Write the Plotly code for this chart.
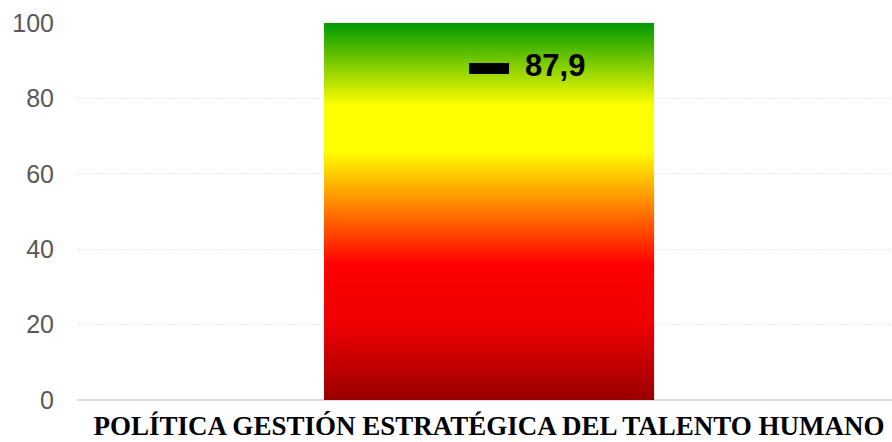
import plotly.graph_objects as go

# Data
categories = ["POLÍTICA GESTIÓN ESTRATÉGICA DEL TALENTO HUMANO"]
scale_max = [100]          # full-height scale bar
scores = [87.9]            # result marker
y_ticks = [0, 20, 40, 60, 80, 100]

bar_half_width = 0.2025
x_pos = list(range(len(categories)))

# traffic-light gradient, bottom (0) to top (1)
gradient = [
    [0.0, "#990000"],
    [0.2, "#ee0000"],
    [0.36, "#ff0000"],
    [0.66, "#ffff00"],
    [0.78, "#ffff00"],
    [1.0, "#009900"],
]

fig = go.Figure()

for xi, top in zip(x_pos, scale_max):
    fig.add_trace(go.Scatter(
        x=[xi - bar_half_width, xi - bar_half_width, xi + bar_half_width, xi + bar_half_width, xi - bar_half_width],
        y=[0, top, top, 0, 0],
        mode="lines",
        line=dict(width=0),
        fill="toself",
        fillgradient=dict(type="vertical", colorscale=gradient, start=0, stop=top),
        hoverinfo="skip",
        showlegend=False,
    ))

# score dash
fig.add_trace(go.Scatter(
    x=x_pos,
    y=scores,
    mode="markers",
    marker=dict(symbol="line-ew", size=28.5, color="black",
                line=dict(color="black", width=11)),
    hoverinfo="skip",
    showlegend=False,
))

# score label, pushed right of the dash by an invisible marker
labels = [f"{v:.1f}".replace(".", ",") for v in scores]
fig.add_trace(go.Scatter(
    x=x_pos,
    y=scores,
    mode="markers+text",
    marker=dict(size=56, opacity=0),
    text=labels,
    textposition="middle right",
    textfont=dict(family="Arial, Liberation Sans", size=31, color="black", weight="bold"),
    showlegend=False,
))

fig.update_layout(
    width=892,
    height=442,
    margin=dict(l=77, r=0, t=23, b=42),
    plot_bgcolor="white",
    paper_bgcolor="white",
    showlegend=False,
)

fig.update_xaxes(
    range=[-0.5056, 0.4944],
    tickvals=x_pos,
    ticktext=categories,
    tickfont=dict(family="Times New Roman, Liberation Serif", size=27, color="black", weight="bold"),
    showgrid=False,
    zeroline=False,
    showline=False,
    ticks="",
    ticklabelstandoff=7,
    automargin=False,
)

fig.update_yaxes(
    range=[0, 100],
    tickvals=y_ticks,
    tickfont=dict(family="Arial, Liberation Sans", size=25, color="#595959"),
    showgrid=True,
    gridcolor="#ebebeb",
    griddash="4px,2px",
    gridwidth=1,
    zeroline=True,
    zerolinecolor="#d9d9d9",
    zerolinewidth=2,
    ticks="",
    ticklabelstandoff=22,
    automargin=False,
)

fig.write_html("out.html")
